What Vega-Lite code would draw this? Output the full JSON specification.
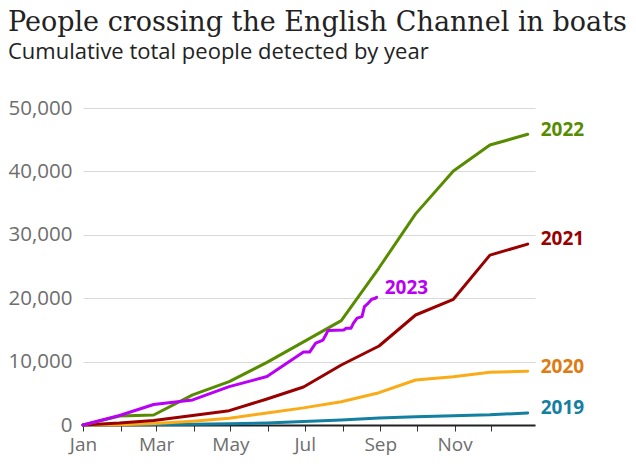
{
  "$schema": "https://vega.github.io/schema/vega-lite/v6.json",
  "width": 452,
  "height": 317,
  "autosize": {"type": "none"},
  "padding": {"left": 83, "top": 108, "right": 101, "bottom": 44},
  "background": "white",
  "title": {
    "text": "People crossing the English Channel in boats",
    "subtitle": "Cumulative total people detected by year",
    "anchor": "start",
    "frame": "group",
    "dx": -75,
    "offset": 34,
    "font": "DejaVu Serif",
    "fontSize": 27,
    "fontWeight": "normal",
    "color": "#222222",
    "subtitleFont": "Open Sans",
    "subtitleFontSize": 22,
    "subtitleColor": "#222222",
    "subtitlePadding": 5
  },
  "config": {"view": {"stroke": null}},
  "datasets": {
    "lines": [
      {"year": "2019", "date": "2019-01-01", "value": 0},
      {"year": "2019", "date": "2019-01-31", "value": 30},
      {"year": "2019", "date": "2019-02-28", "value": 60},
      {"year": "2019", "date": "2019-03-31", "value": 100},
      {"year": "2019", "date": "2019-04-30", "value": 180},
      {"year": "2019", "date": "2019-05-31", "value": 330},
      {"year": "2019", "date": "2019-06-30", "value": 550},
      {"year": "2019", "date": "2019-07-31", "value": 800},
      {"year": "2019", "date": "2019-08-31", "value": 1100},
      {"year": "2019", "date": "2019-09-30", "value": 1300},
      {"year": "2019", "date": "2019-10-31", "value": 1450},
      {"year": "2019", "date": "2019-11-30", "value": 1600},
      {"year": "2019", "date": "2019-12-31", "value": 1900},
      {"year": "2020", "date": "2020-01-01", "value": 0},
      {"year": "2020", "date": "2020-01-31", "value": 40},
      {"year": "2020", "date": "2020-02-29", "value": 250},
      {"year": "2020", "date": "2020-03-31", "value": 600},
      {"year": "2020", "date": "2020-04-30", "value": 1060},
      {"year": "2020", "date": "2020-05-31", "value": 1900},
      {"year": "2020", "date": "2020-06-30", "value": 2700},
      {"year": "2020", "date": "2020-07-31", "value": 3680},
      {"year": "2020", "date": "2020-08-31", "value": 5100},
      {"year": "2020", "date": "2020-09-30", "value": 7100},
      {"year": "2020", "date": "2020-10-31", "value": 7620},
      {"year": "2020", "date": "2020-11-30", "value": 8310},
      {"year": "2020", "date": "2020-12-31", "value": 8470},
      {"year": "2021", "date": "2021-01-01", "value": 0},
      {"year": "2021", "date": "2021-01-31", "value": 300},
      {"year": "2021", "date": "2021-02-28", "value": 700},
      {"year": "2021", "date": "2021-03-31", "value": 1500},
      {"year": "2021", "date": "2021-04-30", "value": 2260},
      {"year": "2021", "date": "2021-05-31", "value": 4100},
      {"year": "2021", "date": "2021-06-30", "value": 6000},
      {"year": "2021", "date": "2021-07-31", "value": 9460},
      {"year": "2021", "date": "2021-08-31", "value": 12460},
      {"year": "2021", "date": "2021-09-30", "value": 17350},
      {"year": "2021", "date": "2021-10-31", "value": 19830},
      {"year": "2021", "date": "2021-11-30", "value": 26800},
      {"year": "2021", "date": "2021-12-31", "value": 28530},
      {"year": "2022", "date": "2022-01-01", "value": 0},
      {"year": "2022", "date": "2022-01-31", "value": 1420},
      {"year": "2022", "date": "2022-02-28", "value": 1580},
      {"year": "2022", "date": "2022-03-31", "value": 4740},
      {"year": "2022", "date": "2022-04-30", "value": 6840},
      {"year": "2022", "date": "2022-05-31", "value": 9870},
      {"year": "2022", "date": "2022-06-30", "value": 13120},
      {"year": "2022", "date": "2022-07-31", "value": 16470},
      {"year": "2022", "date": "2022-08-31", "value": 24800},
      {"year": "2022", "date": "2022-09-30", "value": 33300},
      {"year": "2022", "date": "2022-10-31", "value": 40060},
      {"year": "2022", "date": "2022-11-30", "value": 44160},
      {"year": "2022", "date": "2022-12-31", "value": 45850},
      {"year": "2023", "date": "2023-01-01", "value": 0},
      {"year": "2023", "date": "2023-01-31", "value": 1500},
      {"year": "2023", "date": "2023-02-28", "value": 3240},
      {"year": "2023", "date": "2023-03-31", "value": 3950},
      {"year": "2023", "date": "2023-04-30", "value": 6050},
      {"year": "2023", "date": "2023-05-31", "value": 7640},
      {"year": "2023", "date": "2023-06-30", "value": 11500},
      {"year": "2023", "date": "2023-07-05", "value": 11500},
      {"year": "2023", "date": "2023-07-10", "value": 12900},
      {"year": "2023", "date": "2023-07-15", "value": 13300},
      {"year": "2023", "date": "2023-07-16", "value": 13420},
      {"year": "2023", "date": "2023-07-19", "value": 14480},
      {"year": "2023", "date": "2023-07-20", "value": 14890},
      {"year": "2023", "date": "2023-08-02", "value": 15000},
      {"year": "2023", "date": "2023-08-04", "value": 15270},
      {"year": "2023", "date": "2023-08-08", "value": 15270},
      {"year": "2023", "date": "2023-08-10", "value": 16060},
      {"year": "2023", "date": "2023-08-13", "value": 16850},
      {"year": "2023", "date": "2023-08-17", "value": 17100},
      {"year": "2023", "date": "2023-08-18", "value": 17890},
      {"year": "2023", "date": "2023-08-19", "value": 18680},
      {"year": "2023", "date": "2023-08-22", "value": 19200},
      {"year": "2023", "date": "2023-08-25", "value": 19830},
      {"year": "2023", "date": "2023-08-28", "value": 19990},
      {"year": "2023", "date": "2023-08-29", "value": 20150}
    ],
    "labels": [
      {"year": "2019", "date": "2019-12-31", "value": 2710},
      {"year": "2020", "date": "2020-12-31", "value": 9110},
      {"year": "2021", "date": "2021-12-31", "value": 29260},
      {"year": "2022", "date": "2022-12-31", "value": 46530},
      {"year": "2023", "date": "2023-08-25", "value": 21580}
    ]
  },
  "layer": [
    {
      "data": {"name": "lines"},
      "mark": {"type": "line", "strokeWidth": 3, "strokeJoin": "round", "strokeCap": "round"},
      "encoding": {
        "x": {
          "field": "date", "type": "temporal", "timeUnit": "utcmonthdate",
          "scale": {"type": "utc", "nice": false, "domain": [{"year": 2012, "month": 1, "date": 1, "utc": true}, {"year": 2013, "month": 1, "date": 6, "utc": true}]},
          "axis": {
            "title": null,
            "values": [
              {"year": 2012, "month": 1, "date": 1, "utc": true},
              {"year": 2012, "month": 2, "date": 1, "utc": true},
              {"year": 2012, "month": 3, "date": 1, "utc": true},
              {"year": 2012, "month": 4, "date": 1, "utc": true},
              {"year": 2012, "month": 5, "date": 1, "utc": true},
              {"year": 2012, "month": 6, "date": 1, "utc": true},
              {"year": 2012, "month": 7, "date": 1, "utc": true},
              {"year": 2012, "month": 8, "date": 1, "utc": true},
              {"year": 2012, "month": 9, "date": 1, "utc": true},
              {"year": 2012, "month": 10, "date": 1, "utc": true},
              {"year": 2012, "month": 11, "date": 1, "utc": true},
              {"year": 2012, "month": 12, "date": 1, "utc": true}
            ],
            "labelExpr": "utcmonth(datum.value) % 2 == 0 ? utcFormat(datum.value, '%b') : ''",
            "grid": false,
            "domainColor": "#222222",
            "domainWidth": 2,
            "tickColor": "#333333",
            "tickSize": 6,
            "tickWidth": 1,
            "labelFont": "Open Sans",
            "labelFontSize": 19,
            "labelColor": "#6e6e6e",
            "labelPadding": 4,
            "labelFlush": false,
            "labelOverlap": false
          }
        },
        "y": {
          "field": "value", "type": "quantitative",
          "scale": {"domain": [0, 50000], "nice": false},
          "axis": {
            "title": null,
            "values": [0, 10000, 20000, 30000, 40000, 50000],
            "format": ",d",
            "grid": true,
            "gridColor": "#d9d9d9",
            "gridWidth": 1,
            "domain": false,
            "ticks": false,
            "labelFont": "Open Sans",
            "labelFontSize": 20.5,
            "labelColor": "#6e6e6e",
            "labelPadding": 11
          }
        },
        "color": {
          "field": "year", "type": "nominal",
          "scale": {"domain": ["2019", "2020", "2021", "2022", "2023"], "range": ["#1380a1", "#faab18", "#990000", "#588c00", "#b900f5"]},
          "legend": null
        },
        "order": {"field": "date", "type": "temporal"}
      }
    },
    {
      "data": {"name": "labels"},
      "mark": {"type": "text", "align": "left", "baseline": "middle", "dx": 13, "font": "Open Sans", "fontWeight": "bold", "fontSize": 19},
      "encoding": {
        "x": {"field": "date", "type": "temporal", "timeUnit": "utcmonthdate"},
        "y": {"field": "value", "type": "quantitative"},
        "text": {"field": "year", "type": "nominal"},
        "color": {
          "field": "year", "type": "nominal",
          "scale": {"domain": ["2019", "2020", "2021", "2022", "2023"], "range": ["#1380a1", "#de7b12", "#990000", "#588c00", "#b900f5"]},
          "legend": null
        }
      }
    }
  ],
  "resolve": {"scale": {"color": "independent"}}
}
